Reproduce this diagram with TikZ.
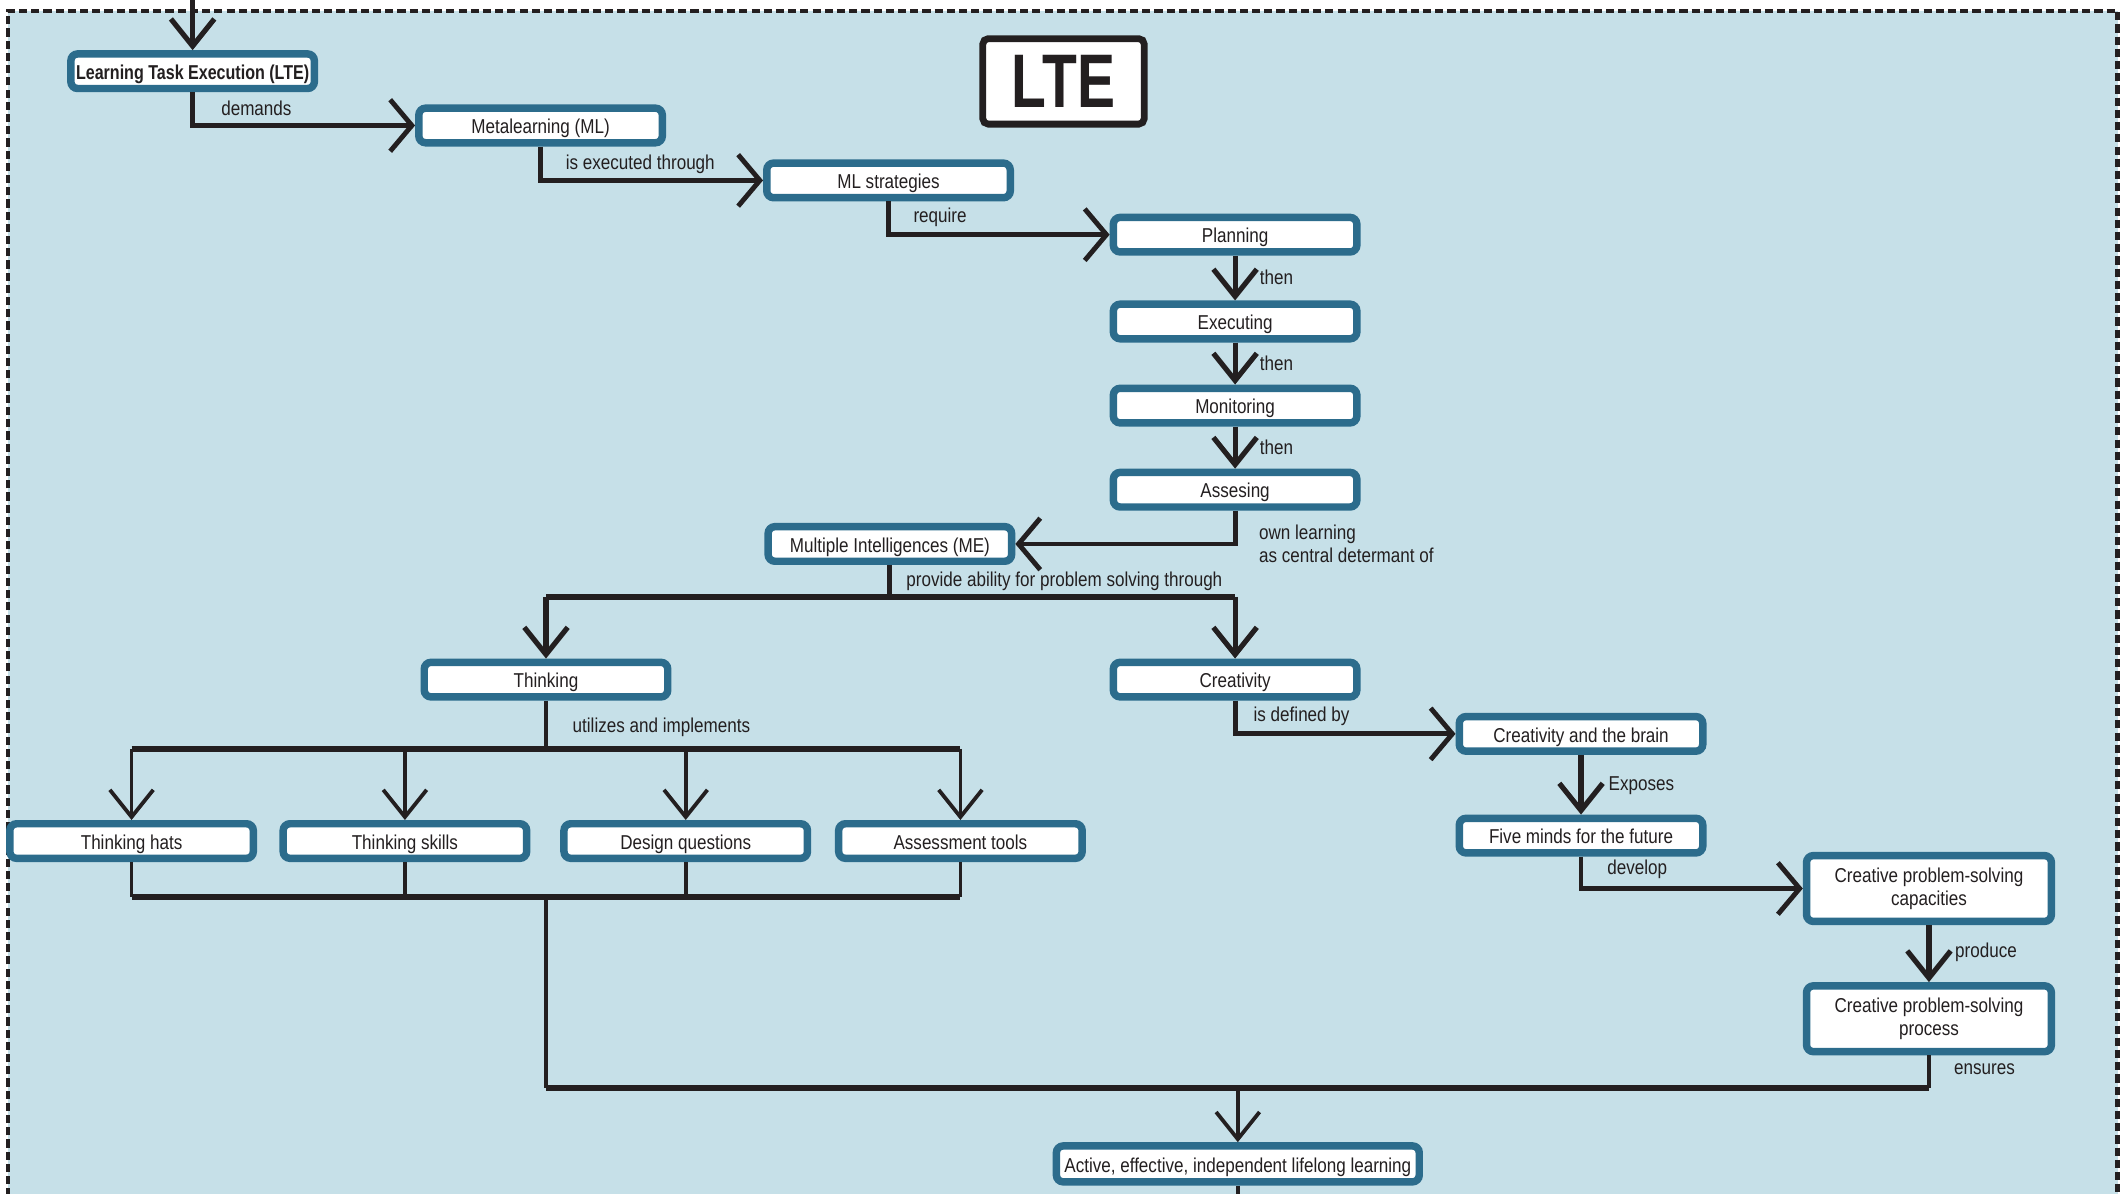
\documentclass[tikz,border=0pt]{standalone}
\usepackage{fontspec}
\setmainfont{Liberation Sans}[FakeStretch=0.85]
\newfontfamily\narrowbold{Liberation Sans}[FakeStretch=0.80]
\newfontfamily\titlefont{Liberation Sans}[FakeStretch=0.75]
\usetikzlibrary{arrows.meta,calc}
\definecolor{panel}{RGB}{198,224,232}
\definecolor{rim}{RGB}{44,108,140}
\definecolor{ink}{RGB}{35,31,32}

\begin{document}
\begin{tikzpicture}[x=1pt,y=-1pt,
  txt/.style={font=\fontsize{14.8}{17}\selectfont, text=ink},
  box/.style={txt, draw=rim, line width=5.5pt, fill=white, rounded corners=5pt,
    minimum width=179.5pt, minimum height=25.5pt, inner sep=0pt, align=center,
    text height=12pt, text depth=0pt},
  tallbox/.style={box, minimum width=180.5pt, minimum height=48.5pt,
    text height=, text depth=},
  conn/.style={draw=ink, line width=3.6pt, -{Straight Barb[length=16pt,width=38pt]}},
  down/.style={draw=ink, line width=3.8pt, -{Straight Barb[length=20pt,width=32pt]}},
  twigarrow/.style={down, line width=2.8pt},
  wire/.style={draw=ink, line width=3.6pt},
  bus/.style={draw=ink, line width=4.2pt},
  twig/.style={draw=ink, line width=2.8pt},
  lbl/.style={txt, inner sep=0pt, align=left, text height=11pt, text depth=3pt},
]
\useasboundingbox (0,0) rectangle (1568,880);
\begin{scope}
\clip (0,0) rectangle (1568,880);

% panel and dashed frame
\fill[panel] (6,8) rectangle (1561,900);
\draw[ink, line width=3.2pt, dash pattern=on 6pt off 3pt] (6,900) -- (6,8) -- (1561,8) -- (1561,900);

% title
\node[draw=ink, line width=5pt, fill=white, rounded corners=4pt, minimum width=119pt,
  minimum height=63pt, inner sep=0pt, text=ink] (title) at (784,60)
  {\titlefont\bfseries\fontsize{56}{60}\selectfont LTE};

% concept boxes
\node[box, font=\narrowbold\bfseries\fontsize{14.8}{17}\selectfont] (lte) at (142,52.5) {Learning Task Execution (LTE)};
\node[box] (ml)     at (398.5,92.5) {Metalearning (ML)};
\node[box] (mls)    at (655,133)    {ML strategies};
\node[box] (plan)   at (910.5,173)  {Planning};
\node[box] (exec)   at (910.5,237)  {Executing};
\node[box] (mon)    at (910.5,299)  {Monitoring};
\node[box] (assess) at (910.5,361)  {Assesing};
\node[box] (mi)     at (656,401)    {Multiple Intelligences (ME)};
\node[box] (think)  at (402.5,501)  {Thinking};
\node[box] (creat)  at (910.5,501)  {Creativity};
\node[box] (brain)  at (1165.5,541) {Creativity and the brain};
\node[box] (five)   at (1165.5,616) {Five minds for the future};
\node[tallbox] (cap)  at (1422,655) {Creative problem-solving\\capacities};
\node[tallbox] (proc) at (1422,751) {Creative problem-solving\\process};
\node[box] (hats)   at (97,620)     {Thinking hats};
\node[box] (skills) at (298.5,620)  {Thinking skills};
\node[box] (design) at (505.5,620)  {Design questions};
\node[box] (tools)  at (708,620)    {Assessment tools};
\node[box, minimum width=267.5pt, minimum height=26.5pt] (active) at (912.5,858)
  {Active, effective, independent lifelong learning};

% free ends and junctions
\coordinate (entry)  at (142,-5);
\coordinate (exit)   at (912.5,900);
\coordinate (mibus)  at (656,440);
\coordinate (tbus)   at (402.5,552);
\coordinate (jbus)   at (402.5,661);
\coordinate (ebus)   at (402.5,802);

% main chain
\draw[down] (entry) -- (lte.north);
\draw[conn] (lte.south) |- (ml.west);
\draw[conn] (ml.south) |- (mls.west);
\draw[conn] (mls.south) |- (plan.west);
\draw[down] (plan.south) -- (exec.north);
\draw[down] (exec.south) -- (mon.north);
\draw[down] (mon.south) -- (assess.north);
\draw[conn] (assess.south) |- (mi.east);

% fork from multiple intelligences
\draw[wire] (mi.south) -- (mibus);
\draw[bus] (think.north |- mibus) -- (creat.north |- mibus);
\draw[down] (think.north |- mibus) -- (think.north);
\draw[down] (creat.north |- mibus) -- (creat.north);

% thinking branch
\draw[wire] (think.south) -- (tbus);
\draw[bus] (hats.north |- tbus) -- (tools.north |- tbus);
\foreach \b in {hats,skills,design,tools}
  \draw[twigarrow] (\b.north |- tbus) -- (\b.north);
\foreach \b in {hats,skills,design,tools}
  \draw[twig] (\b.south) -- (\b.south |- jbus);
\draw[bus] (hats.south |- jbus) -- (tools.south |- jbus);
\draw[wire] (jbus) -- (ebus);

% creativity branch
\draw[conn] (creat.south) |- (brain.west);
\draw[down] (brain.south) -- (five.north);
\draw[conn] (five.south) |- (cap.west);
\draw[down] (cap.south) -- (proc.north);

% joining bus into the outcome
\draw[wire] (proc.south) -- (proc.south |- ebus);
\draw[bus] (ebus) -- (proc.south |- ebus);
\draw[twigarrow] (active.north |- ebus) -- (active.north);
\draw[twig] (active.south) -- (exit);

% link labels
\node[lbl] (l1)  at (189,81)   {demands};
\node[lbl] (l2)  at (472,121)  {is executed through};
\node[lbl] (l3)  at (693,160)  {require};
\node[lbl] (l4)  at (941,206)  {then};
\node[lbl] (l5)  at (941,269)  {then};
\node[lbl] (l6)  at (941,331)  {then};
\node[lbl, anchor=west, text height=, text depth=] (l7) at (928,401) {own learning\\as central determant of};
\node[lbl, anchor=west] (l8)  at (668,428) {provide ability for problem solving through};
\node[lbl, anchor=west] (l9)  at (422,536) {utilizes and implements};
\node[lbl, anchor=west] (l10) at (924,528) {is defined by};
\node[lbl] (l11) at (1210,579) {Exposes};
\node[lbl] (l12) at (1207,641) {develop};
\node[lbl] (l13) at (1464,702) {produce};
\node[lbl] (l14) at (1463,788) {ensures};
\end{scope}
\end{tikzpicture}
\end{document}
